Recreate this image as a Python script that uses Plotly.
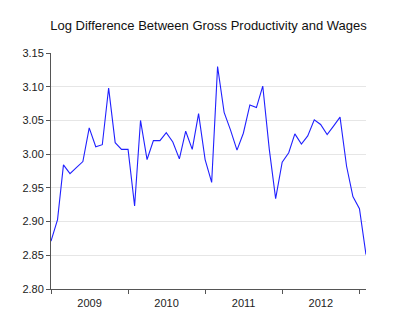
import plotly.graph_objects as go
import pandas as pd

months = pd.date_range("2009-01-01", periods=50, freq="MS")
values = [2.871, 2.903, 2.984, 2.971, 2.980, 2.989, 3.039, 3.011, 3.014, 3.098,
          3.017, 3.007, 3.007, 2.923, 3.050, 2.992, 3.020, 3.020, 3.032, 3.018,
          2.993, 3.034, 3.007, 3.060, 2.992, 2.958, 3.130, 3.062, 3.036, 3.006,
          3.031, 3.073, 3.069, 3.101, 3.007, 2.934, 2.988, 3.002, 3.030, 3.015,
          3.027, 3.051, 3.044, 3.029, 3.042, 3.055, 2.982, 2.937, 2.919, 2.851]
title = "Log Difference Between Gross Productivity and Wages"
y_ticks = [2.80, 2.85, 2.90, 2.95, 3.00, 3.05, 3.10, 3.15]

fig = go.Figure(go.Scatter(x=months, y=values, mode="lines",
                           line=dict(color="#2020ff", width=1.1)))

fig.update_layout(
    width=400, height=330,
    margin=dict(l=51, r=34, t=53, b=41),
    paper_bgcolor="white", plot_bgcolor="white",
    showlegend=False,
    font=dict(family="Liberation Sans, Arial", size=11, color="#222"),
    title=dict(text=title, x=0.5, xref="paper", y=1 - 25/330, yanchor="middle",
               font=dict(size=13, color="#111")),
)
fig.update_xaxes(
    range=[months[0], months[-1]],
    type="date", tick0="2009-01-01", dtick="M12", tickformat="%Y",
    ticklabelmode="period", ticks="outside", ticklen=4, tickcolor="#555",
    showline=True, linecolor="#555", linewidth=1, showgrid=False, zeroline=False,
)
fig.update_yaxes(
    range=[2.80, 3.15], tickvals=y_ticks, tickformat=".2f",
    ticks="outside", ticklen=4, tickcolor="#555",
    showline=True, linecolor="#555", linewidth=1,
    showgrid=True, gridcolor="#e6e6e6", gridwidth=1, zeroline=False,
)
fig.write_html("out.html")
